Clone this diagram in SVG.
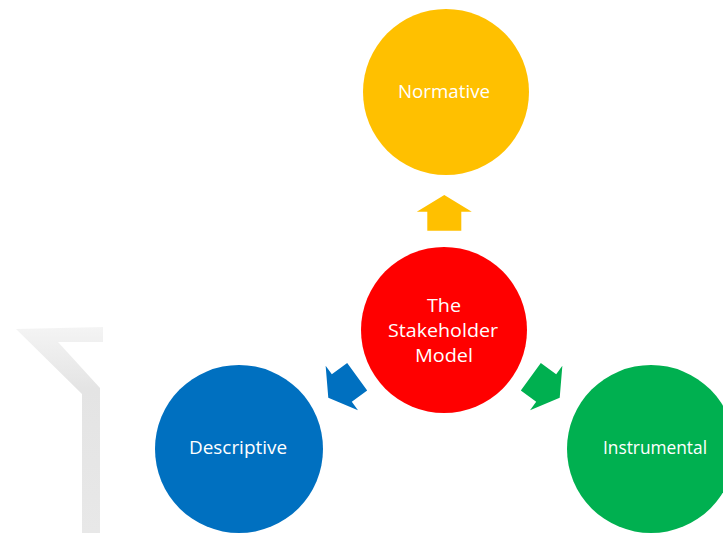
<svg xmlns="http://www.w3.org/2000/svg" width="723" height="533" viewBox="0 0 723 533">
  <style>
    .lbl { font-family: "Open Sans", "Liberation Sans", sans-serif; fill: #ffffff; font-size: 18px; text-anchor: middle; }
  </style>
  <defs>
    <linearGradient id="gray" x1="0" y1="0" x2="0" y2="1">
      <stop offset="0" stop-color="#f4f4f4"/>
      <stop offset="0.3" stop-color="#e4e4e4"/>
      <stop offset="1" stop-color="#e8e8e8"/>
    </linearGradient>
    <polygon id="blockArrow" points="0,0 27.5,16.7 17,16.7 17,35.7 -17,35.7 -17,16.7 -27.5,16.7"/>
  </defs>
  <rect width="723" height="533" fill="#ffffff"/>
  <g id="decor">
    <polygon points="16,329 103,327 103,342 58,342 100,388 100,533 82,533 82,394" fill="url(#gray)"/>
  </g>
  <g id="connectors">
    <use href="#blockArrow" fill="#FFC000" transform="translate(444.3,195)"/>
    <use href="#blockArrow" fill="#0070C0" transform="translate(328.3,397.7) rotate(234)"/>
    <use href="#blockArrow" fill="#00B050" transform="translate(559.7,397.7) rotate(126)"/>
  </g>
  <g id="node-normative">
    <circle cx="446" cy="92" r="83" fill="#FFC000"/>
    <text class="lbl" x="444" y="98" textLength="92" lengthAdjust="spacingAndGlyphs">Normative</text>
  </g>
  <g id="node-stakeholder">
    <circle cx="444" cy="330" r="83" fill="#FF0000"/>
    <text class="lbl" x="444" y="312" textLength="34" lengthAdjust="spacingAndGlyphs">The</text>
    <text class="lbl" x="443" y="337" textLength="110" lengthAdjust="spacingAndGlyphs">Stakeholder</text>
    <text class="lbl" x="444" y="362" textLength="58" lengthAdjust="spacingAndGlyphs">Model</text>
  </g>
  <g id="node-descriptive">
    <circle cx="239" cy="449" r="84" fill="#0070C0"/>
    <text class="lbl" x="238" y="454" textLength="98" lengthAdjust="spacingAndGlyphs">Descriptive</text>
  </g>
  <g id="node-instrumental">
    <circle cx="651" cy="449" r="84" fill="#00B050"/>
    <text class="lbl" x="655" y="454" textLength="104" lengthAdjust="spacingAndGlyphs">Instrumental</text>
  </g>
</svg>
